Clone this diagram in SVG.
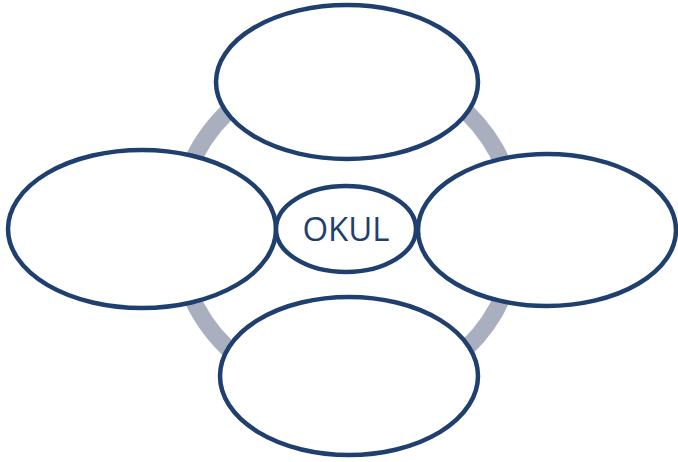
<svg xmlns="http://www.w3.org/2000/svg" width="678" height="462" viewBox="0 0 678 462">
  <style>
    .bubble { fill: #ffffff; stroke: #1f3f6f; stroke-width: 4.5; }
    .ring { fill: none; stroke: #a9afbe; stroke-width: 17; }
    .label { font-family: "Open Sans", "Liberation Sans", sans-serif; font-size: 33px; fill: #1f3f6f; text-anchor: middle; }
  </style>
  <rect width="678" height="462" fill="#ffffff"/>
  <g id="connectors">
    <ellipse class="ring" cx="347" cy="230" rx="170" ry="166"/>
  </g>
  <g id="node-top">
    <ellipse class="bubble" cx="347" cy="82" rx="131" ry="77"/>
  </g>
  <g id="node-left">
    <ellipse class="bubble" cx="142" cy="229" rx="134" ry="79"/>
  </g>
  <g id="node-right">
    <ellipse class="bubble" cx="547" cy="230" rx="129" ry="76"/>
  </g>
  <g id="node-bottom">
    <ellipse class="bubble" cx="349" cy="376" rx="129" ry="79"/>
  </g>
  <g id="node-center">
    <ellipse class="bubble" cx="346" cy="229" rx="70" ry="43"/>
    <text class="label" x="346" y="241">OKUL</text>
  </g>
</svg>
